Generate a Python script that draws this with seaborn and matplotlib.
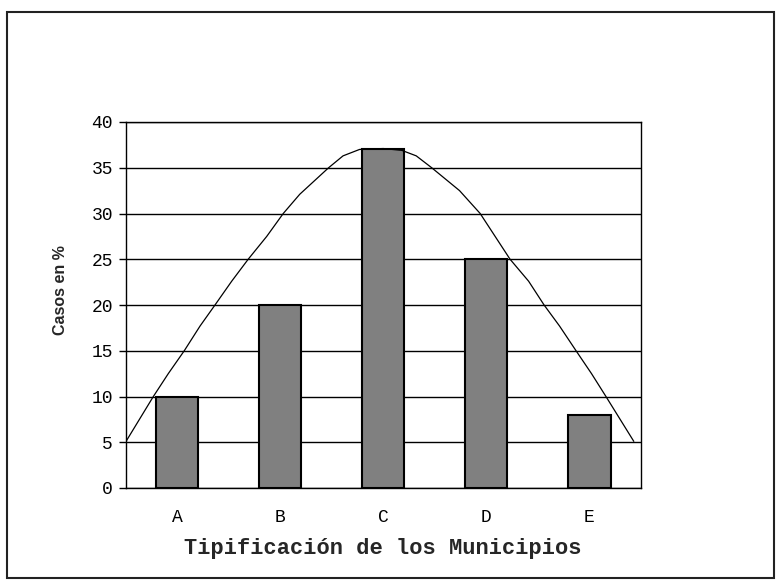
import matplotlib
matplotlib.use("Agg")
import matplotlib.pyplot as plt
import matplotlib.patches as mpatches
import seaborn as sns
import pandas as pd

# bar data
municipios = ['A', 'B', 'C', 'D', 'E']
casos = [10, 20, 37, 25, 8]

# bell curve (x in category units, A=0 ... E=4)
curva_x = [-0.5, -0.23, -0.085, 0.07, 0.223, 0.368, 0.53, 0.69, 0.87, 1.03,
           1.19, 1.47, 1.61, 1.77, 2.0, 2.18, 2.32, 2.47, 2.74, 2.94,
           3.23, 3.41, 3.56, 3.71, 3.87, 4.02, 4.16, 4.43]
curva_y = [5, 10, 12.5, 15, 17.7, 20, 22.6, 25, 27.5, 30,
           32.1, 35, 36.3, 37.0, 37.1, 36.9, 36.3, 35, 32.5, 30,
           25, 22.6, 20, 17.7, 15, 12.5, 10, 5.1]

df = pd.DataFrame({'mun': municipios, 'casos': casos})
df_curva = pd.DataFrame({'x': curva_x, 'y': curva_y})

sns.set_style("white")
fig = plt.figure(figsize=(7.8, 5.82), dpi=100)
ax = fig.add_axes([125.5 / 780, 1 - 488 / 582, 515.5 / 780, 366 / 582])

sns.barplot(data=df, x='mun', y='casos', color='#808080', saturation=1,
            width=0.41, edgecolor='black', linewidth=1.5, ax=ax, zorder=3)
sns.lineplot(data=df_curva, x='x', y='y', color='black', linewidth=0.9,
             sort=False, ax=ax, zorder=4)

ax.set_xlim(-0.5, 4.5)
ax.set_ylim(0, 40)
ax.set_yticks(range(0, 41, 5))
ax.yaxis.grid(True, color='black', linewidth=1)
ax.set_axisbelow(True)

ax.set_xticks(range(5))
ax.set_xticklabels(municipios)
ax.set_xticks([i - 0.5 for i in range(6)], minor=True)
ax.tick_params(axis='x', which='major', length=0, pad=15)
ax.tick_params(axis='x', which='minor', length=5, width=1, direction='out', color='black')
ax.tick_params(axis='y', length=5, width=1, direction='out', color='black', pad=4, left=True)

for lab in ax.get_xticklabels() + ax.get_yticklabels():
    lab.set_family('Liberation Mono')
    lab.set_fontsize(13)
    lab.set_color('black')

for s in ax.spines.values():
    s.set_visible(True)
    s.set_color('black')
    s.set_linewidth(1)

ax.set_xlabel('Tipificación de los Municipios', family='Liberation Mono',
              fontsize=15.8, fontweight='bold', labelpad=9)
ax.set_ylabel('Casos en %', family='Liberation Sans', fontsize=11.5,
              fontweight='bold')
ax.yaxis.label.set_va('center')
ax.yaxis.set_label_coords(-0.127, 0.541)

# outer frame of the figure
fig.patches.append(mpatches.Rectangle((7 / 780, 4 / 582), 767 / 780, 566 / 582,
                                      transform=fig.transFigure, fill=False,
                                      edgecolor='#222222', linewidth=1.5))

fig.savefig('out.png', dpi=100)
